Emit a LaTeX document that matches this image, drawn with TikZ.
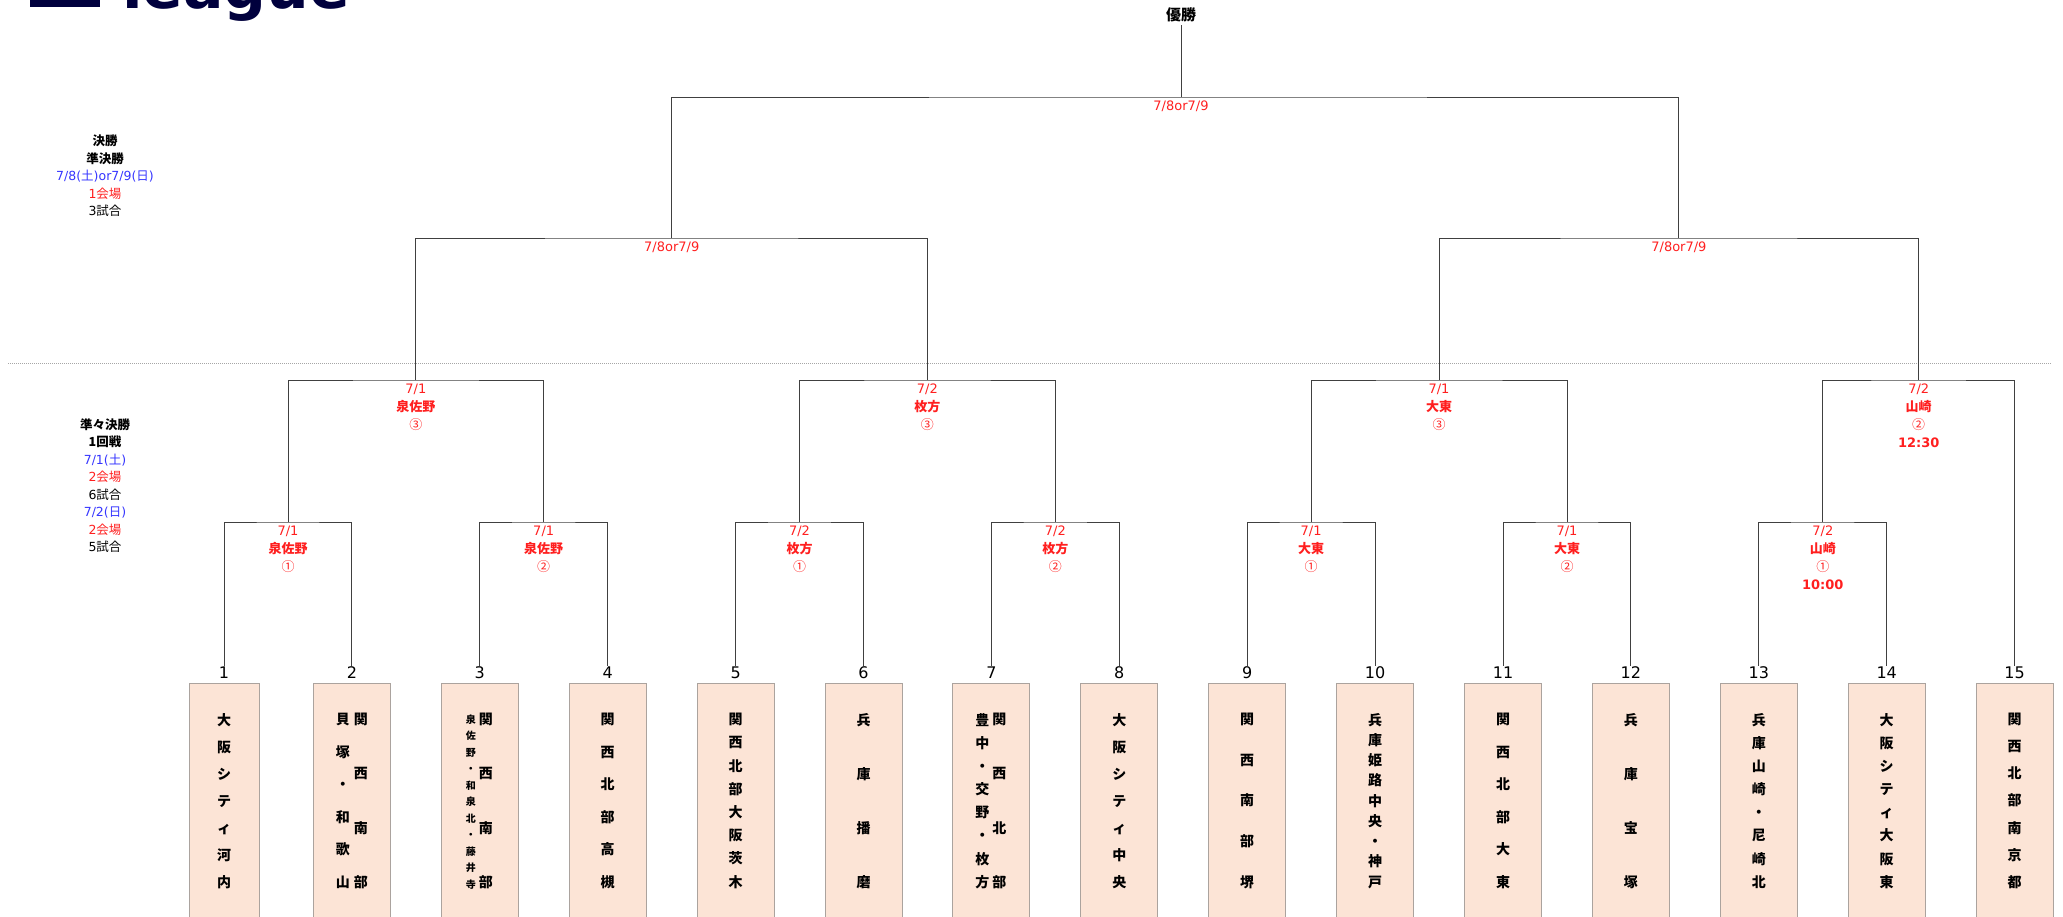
\documentclass[tikz,border=0pt]{standalone}
\usepackage{fontspec}
\setmainfont{DejaVu Sans}
\newfontfamily\jp{Noto Sans CJK JP}
\usetikzlibrary{positioning}
\definecolor{matchred}{HTML}{FF1F1F}
\definecolor{dayblue}{HTML}{3535FF}
\definecolor{teamfill}{HTML}{FCE4D6}
\definecolor{teamline}{HTML}{ABA39E}
\definecolor{logonavy}{HTML}{00003D}
\newlength{\teamwidth}
\setlength{\teamwidth}{77pt}
\newcommand{\vcol}[2][18pt]{\parbox[c][174pt][s]{#1}{\foreach \kana [count=\kanano] in {#2}{\ifnum\kanano>1 \vfill\fi\hbox to #1{\hss\kana\hss}}}}

\begin{document}
\begin{tikzpicture}[x=1pt, y=1pt,
    bracket/.style={draw=black!75, line width=0.9pt},
    mlabel/.style={anchor=north, inner sep=1pt, yshift=-2.5pt, align=center, text=matchred, font=\fontsize{13}{18}\selectfont},
    teambox/.style={draw=teamline, fill=teamfill, line width=1pt, anchor=north, minimum height=250pt, inner sep=0pt},
    teamname/.style={inner sep=0pt, font=\jp\bfseries\fontsize{14}{14}\selectfont},
    num/.style={inner sep=1pt, font=\fontsize{16}{16}\selectfont},
    info/.style={align=center, inner sep=0pt, font=\fontsize{12.5}{17.5}\selectfont},
    champ/.style={inner sep=3pt, font=\jp\bfseries\fontsize{15}{15}\selectfont},
    logo/.style={inner sep=0pt, anchor=base west, text=logonavy, font=\fontsize{60}{60}\selectfont\bfseries}]
    \useasboundingbox (0,0) rectangle (2063,-916);

    \begin{scope}
        \clip (0,0) rectangle (400,-40);
        \node[logo] (logo) at (122,-8) {league};
        \fill[logonavy] (30,10) rectangle (100,-6.5);
    \end{scope}

    \node[info] (info1) at (105,-176) {{\jp\bfseries 決勝}\\{\jp\bfseries 準決勝}\\\textcolor{dayblue}{7/8({\jp 土})or7/9({\jp 日})}\\\textcolor{matchred}{1{\jp 会場}}\\3{\jp 試合}};
    \node[info] (info2) at (105,-485.5) {{\jp\bfseries 準々決勝}\\{\jp\bfseries 1回戦}\\\textcolor{dayblue}{7/1({\jp 土})}\\\textcolor{matchred}{2{\jp 会場}}\\6{\jp 試合}\\\textcolor{dayblue}{7/2({\jp 日})}\\\textcolor{matchred}{2{\jp 会場}}\\5{\jp 試合}};

    \draw[gray!70, line width=1pt, dash pattern=on 1pt off 1pt] (8,-363) -- (2052,-363);

    \foreach \i in {1,...,15} {
        \pgfmathsetmacro\bw{\i==1 ? 70 : 77}
        \node[teambox, minimum width=\bw pt] (b\i) at ({224+127.9*(\i-1)},-683) {};
        \node[num, above=3pt of b\i] (n\i) {\i};
    }

    \node[teamname, below=30pt of b1.north] (w1) {\vcol{大,阪,シ,テ,ィ,河,内}};
    \node[teamname, below=30pt of b2.north] (w2) {\vcol{貝,塚,・,和,歌,山}\vcol{関,西,南,部}};
    \node[teamname, below=30pt of b3.north] (w3) {{\fontsize{10}{10}\selectfont\vcol[12pt]{泉,佐,野,・,和,泉,北,・,藤,井,寺}}\vcol{関,西,南,部}};
    \node[teamname, below=30pt of b4.north] (w4) {\vcol{関,西,北,部,高,槻}};
    \node[teamname, below=30pt of b5.north] (w5) {\vcol{関,西,北,部,大,阪,茨,木}};
    \node[teamname, below=30pt of b6.north] (w6) {\vcol{兵,庫,播,磨}};
    \node[teamname, below=30pt of b7.north] (w7) {\vcol[16pt]{豊,中,・,交,野,・,枚,方}\vcol{関,西,北,部}};
    \node[teamname, below=30pt of b8.north] (w8) {\vcol{大,阪,シ,テ,ィ,中,央}};
    \node[teamname, below=30pt of b9.north] (w9) {\vcol{関,西,南,部,堺}};
    \node[teamname, below=30pt of b10.north] (w10) {\vcol{兵,庫,姫,路,中,央,・,神,戸}};
    \node[teamname, below=30pt of b11.north] (w11) {\vcol{関,西,北,部,大,東}};
    \node[teamname, below=30pt of b12.north] (w12) {\vcol{兵,庫,宝,塚}};
    \node[teamname, below=30pt of b13.north] (w13) {\vcol{兵,庫,山,崎,・,尼,崎,北}};
    \node[teamname, below=30pt of b14.north] (w14) {\vcol{大,阪,シ,テ,ィ,大,阪,東}};
    \node[teamname, below=30pt of b15.north] (w15) {\vcol{関,西,北,部,南,京,都}};

    \coordinate (m12) at (288,-522);
    \coordinate (m34) at (543.7,-522);
    \coordinate (m56) at (799.5,-522);
    \coordinate (m78) at (1055.3,-522);
    \coordinate (m910) at (1311.1,-522);
    \coordinate (m1112) at (1567,-522);
    \coordinate (m1314) at (1822.8,-522);
    \coordinate (q1) at (415.9,-380);
    \coordinate (q2) at (927.4,-380);
    \coordinate (q3) at (1439,-380);
    \coordinate (q4) at (1918.7,-380);
    \coordinate (s1) at (671.7,-238);
    \coordinate (s2) at (1678.9,-238);
    \coordinate (f) at (1181,-97);

    \draw[bracket] (n1.north) |- (m12) -| (n2.north);
    \draw[bracket] (n3.north) |- (m34) -| (n4.north);
    \draw[bracket] (n5.north) |- (m56) -| (n6.north);
    \draw[bracket] (n7.north) |- (m78) -| (n8.north);
    \draw[bracket] (n9.north) |- (m910) -| (n10.north);
    \draw[bracket] (n11.north) |- (m1112) -| (n12.north);
    \draw[bracket] (n13.north) |- (m1314) -| (n14.north);
    \draw[bracket] (m12) |- (q1) -| (m34);
    \draw[bracket] (m56) |- (q2) -| (m78);
    \draw[bracket] (m910) |- (q3) -| (m1112);
    \draw[bracket] (m1314) |- (q4) -| (n15.north);
    \draw[bracket] (q1) |- (s1) -| (q2);
    \draw[bracket] (q3) |- (s2) -| (q4);
    \draw[bracket] (s1) |- (f) -| (s2);

    \node[champ] (champion) at (1181,-15) {優勝};
    \draw[bracket] (champion) -- (f);

    \node[mlabel] (lf) at (f) {7/8or7/9};
    \node[mlabel] (ls1) at (s1) {7/8or7/9};
    \node[mlabel] (ls2) at (s2) {7/8or7/9};
    \node[mlabel] (lq1) at (q1) {7/1\\{\jp\bfseries 泉佐野}\\{\jp ③}};
    \node[mlabel] (lq2) at (q2) {7/2\\{\jp\bfseries 枚方}\\{\jp ③}};
    \node[mlabel] (lq3) at (q3) {7/1\\{\jp\bfseries 大東}\\{\jp ③}};
    \node[mlabel] (lq4) at (q4) {7/2\\{\jp\bfseries 山崎}\\{\jp ②}\\\textbf{12:30}};
    \node[mlabel] (lm12) at (m12) {7/1\\{\jp\bfseries 泉佐野}\\{\jp ①}};
    \node[mlabel] (lm34) at (m34) {7/1\\{\jp\bfseries 泉佐野}\\{\jp ②}};
    \node[mlabel] (lm56) at (m56) {7/2\\{\jp\bfseries 枚方}\\{\jp ①}};
    \node[mlabel] (lm78) at (m78) {7/2\\{\jp\bfseries 枚方}\\{\jp ②}};
    \node[mlabel] (lm910) at (m910) {7/1\\{\jp\bfseries 大東}\\{\jp ①}};
    \node[mlabel] (lm1112) at (m1112) {7/1\\{\jp\bfseries 大東}\\{\jp ②}};
    \node[mlabel] (lm1314) at (m1314) {7/2\\{\jp\bfseries 山崎}\\{\jp ①}\\\textbf{10:00}};
\end{tikzpicture}
\end{document}
